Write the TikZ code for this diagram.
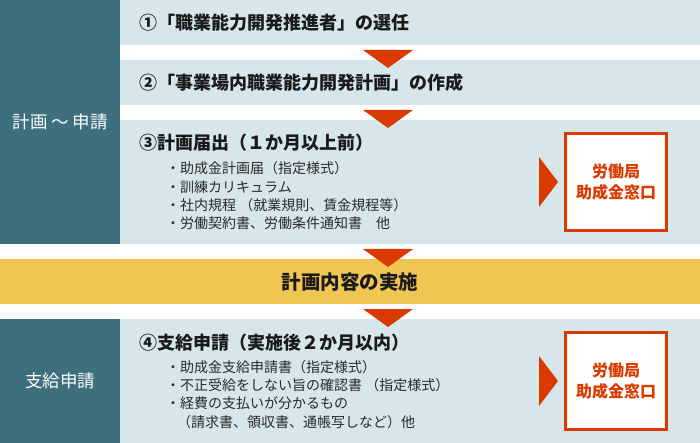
\documentclass[tikz,border=0pt]{standalone}
\usepackage{fontspec}
\setmainfont{Noto Sans CJK JP}
\definecolor{cTeal}{HTML}{3D6F7F}
\definecolor{cLight}{HTML}{D6E6EA}
\definecolor{cYellow}{HTML}{F0C653}
\definecolor{cOrange}{HTML}{D93A00}
\definecolor{cText}{HTML}{1A1A1A}
\definecolor{cItem}{HTML}{2A2A2A}
\begin{document}
\begin{tikzpicture}[x=1pt,y=-1pt,
  panel/.style={fill=cLight, draw=none, inner sep=0, anchor=north west, minimum width=580pt},
  side/.style={fill=cTeal, draw=none, inner sep=0, anchor=north west, text=white, minimum width=120pt, font=\fontsize{17.5}{20}\selectfont},
  band/.style={fill=cYellow, draw=none, inner sep=0, anchor=north west, minimum width=700pt, minimum height=45pt, text=cText, font=\fontsize{19.5}{22}\selectfont\bfseries},
  title/.style={anchor=west, inner sep=0, text=cText, font=\fontsize{18}{20}\selectfont\bfseries},
  item/.style={anchor=west, inner sep=0, text=cItem, font=\fontsize{14}{16}\selectfont},
  office/.style={draw=cOrange, line width=3pt, fill=white, inner sep=0, outer sep=0, text=cOrange, font=\fontsize{16}{21}\selectfont\bfseries, align=center, minimum width=101pt, minimum height=97pt, anchor=north west},
  down/.style={fill=cOrange},
]
\useasboundingbox (0,0) rectangle (700,443);
\fill[white] (0,0) rectangle (700,443);
% left side labels
\node[side, minimum height=244pt] (left1) at (0,0) {計画 〜 申請};
\node[side, minimum height=124pt] (left2) at (0,319) {支給申請};
% panels
\node[panel, minimum height=45pt] (row1) at (120,0) {};
\node[panel, minimum height=45pt] (row2) at (120,60) {};
\node[panel, minimum height=124pt] (row3) at (120,120) {};
\node[band] (band) at (0,259) {計画内容の実施};
\node[panel, minimum height=124pt] (row4) at (120,319) {};
% down arrows
\fill[down] (363,50) -- (413,50) -- (388,68) -- cycle;
\fill[down] (363,110) -- (413,110) -- (388,128) -- cycle;
\fill[down] (363,249) -- (413,249) -- (388,267) -- cycle;
\fill[down] (363,309) -- (413,309) -- (388,327) -- cycle;
% titles
\node[title] (t1) at (139,22.5) {①「職業能力開発推進者」の選任};
\node[title] (t2) at (139,82.5) {②「事業場内職業能力開発計画」の作成};
\node[title] (t3) at (139,143) {③計画届出（１か月以上前）};
\node[title] (t4) at (139,343) {④支給申請（実施後２か月以内）};
% items row 3
\node[item] (i31) at (166,168) {・助成金計画届（指定様式）};
\node[item] (i32) at (166,187) {・訓練カリキュラム};
\node[item] (i33) at (166,205) {・社内規程 （就業規則、賃金規程等）};
\node[item] (i34) at (166,223) {・労働契約書、労働条件通知書　他};
% items row 4
\node[item] (i41) at (166,367) {・助成金支給申請書（指定様式）};
\node[item] (i42) at (166,385) {・不正受給をしない旨の確認書 （指定様式）};
\node[item] (i43) at (166,403) {・経費の支払いが分かるもの};
\node[item] (i44) at (177,422) {（請求書、領収書、通帳写しなど）他};
% offices
\node[office] (box1) at (565.5,133.5) {労働局\\助成金窓口};
\node[office] (box2) at (565.5,332.5) {労働局\\助成金窓口};
% right arrows
\fill[down] (539,157) -- (558,182) -- (539,207) -- cycle;
\fill[down] (539,356) -- (558,381) -- (539,406) -- cycle;
\end{tikzpicture}
\end{document}
